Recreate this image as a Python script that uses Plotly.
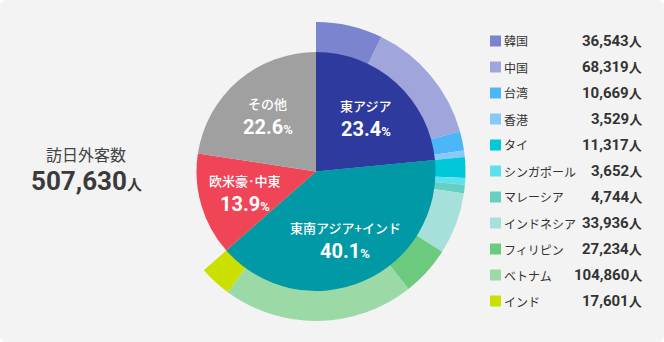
import math
import plotly.graph_objects as go

# ---------------- data ----------------
total_label = "507,630"
east_labels = ["韓国", "中国", "台湾", "香港"]
east_values = [36543, 68319, 10669, 3529]
sea_labels = ["タイ", "シンガポール", "マレーシア", "インドネシア", "フィリピン", "ベトナム", "インド"]
sea_values = [11317, 3652, 4744, 33936, 27234, 104860, 17601]
region_labels = ["東アジア", "東南アジア+インド", "欧米豪･中東", "その他"]
region_pct = ["23.4", "40.1", "13.9", "22.6"]
western_value = 70535
other_value = 114691

region_colors = ["#2f3a9f", "#0099a5", "#f04457", "#a0a0a0"]
east_colors = ["#7b84cf", "#a0a5dc", "#4db6f8", "#89c9f9"]
sea_colors = ["#00c8d8", "#5ee1ed", "#66cfc4", "#a6e0db", "#6cca7f", "#9bdaa6", "#cbe000"]

# ---------------- layout constants ----------------
W, H = 664, 342
CX, CY = 316, 171.5          # pie centre (px from left/top)
R_IN, R_OUT = 119.5, 149.5
JP = "Noto Sans CJK JP"
NUM = "Roboto, Noto Sans CJK JP"
TXT = "#333333"

region_values = [sum(east_values), sum(sea_values), western_value, other_value]
outer_labels = east_labels + sea_labels + ["_w", "_o"]
outer_values = east_values + sea_values + [western_value, other_value]
outer_colors = east_colors + sea_colors + ["rgba(0,0,0,0)", "rgba(0,0,0,0)"]


def dom(r):
    return dict(x=[(CX - r) / W, (CX + r) / W],
                y=[(H - CY - r) / H, (H - CY + r) / H])


fig = go.Figure()
fig.add_trace(go.Pie(
    labels=outer_labels, values=outer_values, sort=False, direction="clockwise",
    rotation=0, marker=dict(colors=outer_colors, line=dict(width=0)),
    textinfo="none", hoverinfo="skip", showlegend=False, domain=dom(R_OUT)))
fig.add_trace(go.Pie(
    labels=region_labels, values=region_values, sort=False, direction="clockwise",
    rotation=0, marker=dict(colors=region_colors, line=dict(width=0)),
    textinfo="none", hoverinfo="skip", showlegend=False, domain=dom(R_IN)))

annotations = []
shapes = []

# inner labels placed at slice mid-angles
tot = sum(region_values)
cum = 0
for lab, pct, v in zip(region_labels, region_pct, region_values):
    mid = (cum + v / 2) / tot * 2 * math.pi
    cum += v
    rr = 0.62 * R_IN
    px = CX + rr * math.sin(mid)
    py = CY - rr * math.cos(mid)
    annotations.append(dict(
        x=px / W, y=(H - (py - 11.5)) / H, xref="paper", yref="paper",
        text=lab, showarrow=False, xanchor="center", yanchor="middle",
        font=dict(family=JP, size=13, color="white", weight=500)))
    annotations.append(dict(
        x=px / W, y=(H - (py + 12)) / H, xref="paper", yref="paper",
        text=f"{pct}<span style='font-size:13px'>%</span>", showarrow=False,
        xanchor="center", yanchor="middle",
        font=dict(family=NUM, size=20, color="white", weight="bold")))

# left total
annotations.append(dict(x=86 / W, y=(H - 154) / H, xref="paper", yref="paper",
                        text="訪日外客数", showarrow=False, xanchor="center", yanchor="middle",
                        font=dict(family=JP, size=16, color="#444444")))
annotations.append(dict(x=86 / W, y=(H - 181) / H, xref="paper", yref="paper",
                        text=f"{total_label}<span style='font-size:15px'>人</span>",
                        showarrow=False, xanchor="center", yanchor="middle",
                        font=dict(family=NUM, size=26, color="#3a3a3a", weight="bold")))

# legend
leg_labels = east_labels + sea_labels
leg_values = east_values + sea_values
leg_colors = east_colors + sea_colors
rows = list(range(len(leg_labels)))
ROW0, ROWH = 41, 26
fig.add_trace(go.Scatter(
    x=[495.5] * len(rows), y=[ROW0 + ROWH * i for i in rows], mode="markers",
    marker=dict(symbol="square", size=11, color=leg_colors, line=dict(width=0)),
    hoverinfo="skip", showlegend=False, cliponaxis=False))
for i, (lab, val) in enumerate(zip(leg_labels, leg_values)):
    y = (H - (ROW0 + ROWH * i)) / H
    annotations.append(dict(x=502 / W, y=y, xref="paper", yref="paper", text=lab,
                            showarrow=False, xanchor="left", yanchor="middle",
                            font=dict(family=JP, size=12, color=TXT)))
    annotations.append(dict(x=644 / W, y=y, xref="paper", yref="paper",
                            text=f"{val:,}<span style='font-size:13px'>人</span>",
                            showarrow=False, xanchor="right", yanchor="middle",
                            font=dict(family=NUM, size=15, color=TXT, weight="bold")))

# rounded background
rx, ry = 7 / W, 7 / H
path = (f"M {rx},0 L {1-rx},0 Q 1,0 1,{ry} L 1,{1-ry} Q 1,1 {1-rx},1 "
        f"L {rx},1 Q 0,1 0,{1-ry} L 0,{ry} Q 0,0 {rx},0 Z")
shapes.append(dict(type="path", path=path, xref="paper", yref="paper",
                   fillcolor="#f3f3f3", line=dict(width=0), layer="below"))

fig.update_layout(
    width=W, height=H, margin=dict(l=0, r=0, t=0, b=0),
    paper_bgcolor="white", plot_bgcolor="rgba(0,0,0,0)",
    xaxis=dict(range=[0, W], visible=False, fixedrange=True, domain=[0, 1]),
    yaxis=dict(range=[H, 0], visible=False, fixedrange=True, domain=[0, 1]),
    annotations=annotations, shapes=shapes, showlegend=False)

fig.write_html("out.html", config={"displayModeBar": False})
